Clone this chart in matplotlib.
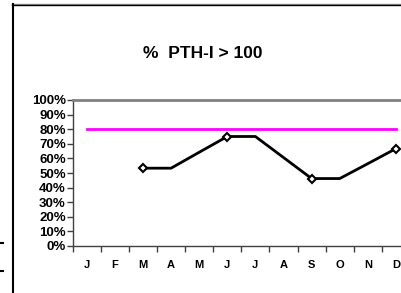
import matplotlib
matplotlib.use("Agg")
import matplotlib.pyplot as plt
from matplotlib.lines import Line2D
import numpy as np

months = ["J", "F", "M", "A", "M", "J", "J", "A", "S", "O", "N", "D"]
values = [None, None, 0.533, 0.533, 0.642, 0.75, 0.75, 0.606, 0.462, 0.462, 0.564, 0.667]
marker_months = [2, 5, 8, 11]
target = 0.80
title = "%  PTH-I > 100"
yticks = [0, 0.1, 0.2, 0.3, 0.4, 0.5, 0.6, 0.7, 0.8, 0.9, 1.0]

plt.rcParams['font.family'] = ['Liberation Sans', 'DejaVu Sans']

fig = plt.figure(figsize=(4.01, 2.93), dpi=100)
ax = fig.add_axes([72.7/401, 1-246/293, (410-72.7)/401, 146/293])

x = np.arange(len(months))
xv = [i for i, v in enumerate(values) if v is not None]
yv = [v for v in values if v is not None]
ax.plot(xv, yv, color='black', lw=2, zorder=3)
ax.plot([i for i in marker_months], [values[i] for i in marker_months], ls='none',
        marker='D', ms=4.5, mfc='white', mec='black', mew=1.5, zorder=4)
ax.plot([0, len(months)-1], [target, target], color='#ff00ff', lw=2, zorder=2)

ax.set_xlim(-0.5, len(months)-0.5)
ax.set_ylim(0, 1)
ax.set_yticks(yticks)
ax.set_yticklabels([f"{int(round(t*100))}%" for t in yticks], fontsize=9.5, fontweight='bold')
ax.set_xticks(np.arange(len(months)+1) - 0.5)
ax.set_xticklabels([])
ax.set_xticks(x, minor=True)
ax.set_xticklabels(months, minor=True, fontsize=8, fontweight='bold')
ax.tick_params(axis='x', which='major', length=4, width=1, direction='out', color='#404040')
ax.tick_params(axis='x', which='minor', length=0, pad=10)
ax.tick_params(axis='y', length=4, width=1, direction='out', color='#404040', pad=1)

for s in ['left', 'bottom']:
    ax.spines[s].set_color('#404040')
    ax.spines[s].set_linewidth(1)
ax.spines['top'].set_color('#808080')
ax.spines['top'].set_linewidth(2)
ax.spines['right'].set_visible(False)

fig.text(203/401, 1-53/293, title, ha='center', va='center', fontsize=12.5, fontweight='bold')

# outer frame lines
fig.add_artist(Line2D([12/401, 1], [1-4/293, 1-4/293], color='#909090', lw=1, transform=fig.transFigure))
fig.add_artist(Line2D([12/401, 1], [1-5/293, 1-5/293], color='black', lw=1, transform=fig.transFigure))
fig.add_artist(Line2D([12.5/401, 12.5/401], [0, 1-4/293], color='black', lw=1.5, transform=fig.transFigure))
fig.add_artist(Line2D([0, 3/401], [1-243/293, 1-243/293], color='black', lw=1.5, transform=fig.transFigure))
fig.add_artist(Line2D([0, 3/401], [1-271/293, 1-271/293], color='black', lw=1.5, transform=fig.transFigure))

fig.savefig("out.png", dpi=100)
